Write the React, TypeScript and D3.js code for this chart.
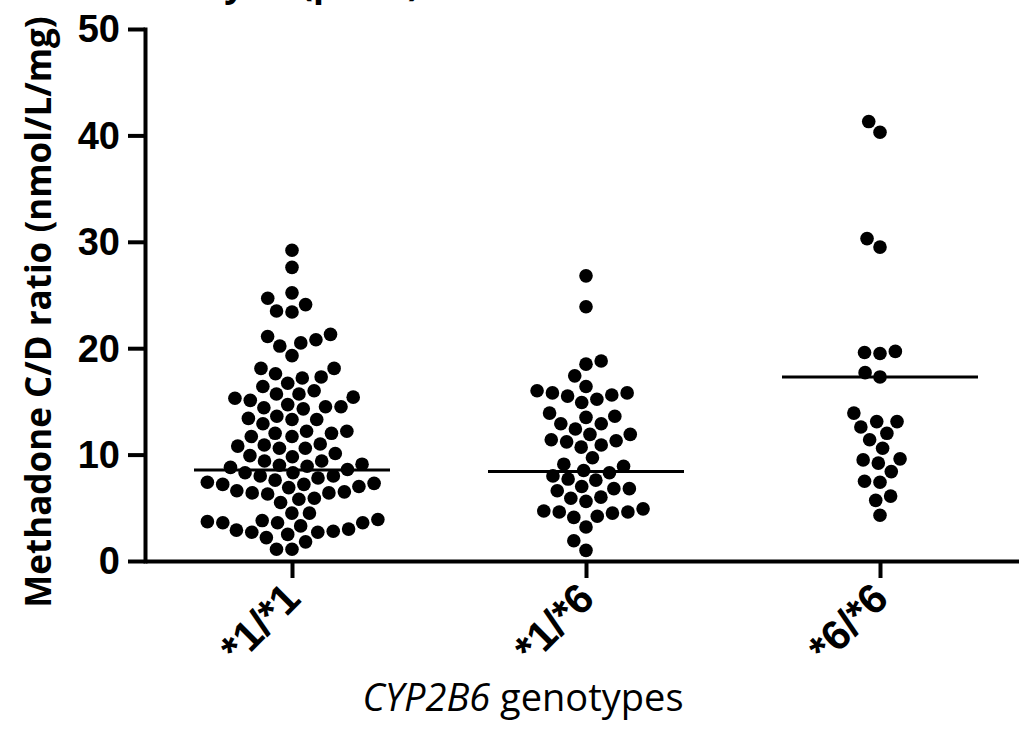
import React, { useEffect, useRef } from "react";
import * as d3 from "d3";

// genotype groups and the methadone C/D ratios
const genotypes = ["*1/*1", "*1/*6", "*6/*6"];
const ratioWT = [
  29.2, 27.6, 25.2, 24.7, 24.1, 23.4, 23.5,
  21.1, 20.5, 20.2, 20.8, 21.3, 19.3,
  18.1, 18.1, 17.6, 17.3, 16.7, 16.4, 17.2,
  16.0, 15.7, 15.3, 14.7, 14.5, 14.5, 15.1, 14.4, 15.4, 15.7,
  14.3, 13.4, 13.3, 12.9, 13.3, 13.6,
  12.2, 12.0, 11.7, 11.0, 11.7, 12.0, 12.2,
  10.9, 10.6, 9.9, 9.4, 9.4, 9.8, 10.1, 10.6, 10.8,
  9.0, 8.8, 8.3, 8.0, 7.8, 8.0, 8.3, 8.6, 8.9, 9.1,
  7.6, 7.3, 7.2, 6.9, 6.5, 6.4, 6.3, 6.4, 6.6, 7.0, 7.2, 7.4,
  5.9, 5.5, 5.8, 4.5, 4.5,
  3.9, 3.7, 3.6, 3.3, 2.5, 2.9, 2.7, 2.7, 2.8, 3.0, 3.6, 3.6, 3.8,
  1.8, 2.2, 1.1, 1.1,
];
const ratioHet = [
  26.8, 23.9, 18.8, 18.5, 17.4,
  16.4, 15.8, 15.6, 15.2, 14.9, 15.5, 15.8, 16.0,
  13.6, 12.9, 12.4, 12.9, 13.5, 13.9,
  11.9, 11.3, 10.9, 10.7, 11.2, 11.4, 11.9,
  9.7, 8.9, 9.1, 8.3, 8.5, 8.0,
  7.7, 7.0, 6.8, 6.6, 6.8, 7.6,
  5.9, 5.6, 6.0,
  4.7, 4.5, 4.1, 4.9, 4.2, 4.6, 4.6,
  3.2, 1.9, 1.0,
];
const ratioHom = [
  41.3, 40.3, 30.3, 29.5, 19.7, 19.5, 19.6, 17.7, 17.3,
  13.9, 13.1, 13.1, 12.6, 12.0, 11.4, 10.6, 9.5, 9.6, 9.2,
  8.4, 7.4, 7.5, 6.1, 5.7, 4.3,
];
const groupLines = [8.55, 8.4, 17.3];
const yTicks = [0, 10, 20, 30, 40, 50];

const W = 1019;
const H = 732;

// simple beeswarm: each dot takes the free spot nearest the centre line
function swarm(values: number[], py: (v: number) => number, diam: number) {
  const placed: { x: number; y: number }[] = [];
  const order = values.map((_, i) => i).sort((a, b) => values[a] - values[b]);
  const out: { x: number; y: number }[] = new Array(values.length);
  order.forEach((i) => {
    const y = py(values[i]);
    const near = placed.filter((p) => Math.abs(p.y - y) < diam);
    const cands = [0];
    near.forEach((p) => {
      const dx = Math.sqrt(diam * diam - (p.y - y) * (p.y - y));
      cands.push(p.x - dx, p.x + dx);
    });
    cands.sort((a, b) => Math.abs(a) - Math.abs(b));
    const x = cands.find((c) =>
      near.every((p) => (p.x - c) ** 2 + (p.y - y) ** 2 >= diam * diam - 0.01)
    ) as number;
    const pt = { x, y };
    placed.push(pt);
    out[i] = pt;
  });
  return out;
}

export default function App() {
  const ref = useRef<SVGSVGElement>(null);

  useEffect(() => {
    const svg = d3.select(ref.current);
    svg.selectAll("*").remove();

    const x = d3.scalePoint().domain(genotypes).range([145, 1027]).padding(0.5);
    const y = d3.scaleLinear().domain([0, 50]).range([561, 29]);

    // title, cut off at the top edge (only descenders show)
    svg.append("text")
      .attr("x", 420)
      .attr("y", -4)
      .attr("text-anchor", "end")
      .attr("font-family", "'Open Sans', sans-serif")
      .attr("font-weight", 700)
      .attr("font-size", 36)
      .text("ANOVA analysis (p<.05)");

    // y axis
    const yAxis = svg.append("g")
      .attr("transform", "translate(145,0)")
      .call(d3.axisLeft(y).tickValues(yTicks).tickSize(17).tickSizeOuter(0).tickPadding(8));
    yAxis.select(".domain").attr("stroke", "#000").attr("stroke-width", 4).attr("stroke-linecap", "square");
    yAxis.selectAll(".tick line").attr("stroke", "#000").attr("stroke-width", 4);
    yAxis.selectAll(".tick text")
      .attr("fill", "#000")
      .attr("font-family", "'Liberation Sans', Arial, sans-serif")
      .attr("font-weight", 700)
      .attr("font-size", 38)
      .attr("dy", "0.34em");

    // x axis
    const xAxis = svg.append("g")
      .attr("transform", "translate(0,561)")
      .call(d3.axisBottom(x).tickSize(17).tickSizeOuter(0));
    xAxis.select(".domain").attr("stroke", "#000").attr("stroke-width", 4);
    xAxis.selectAll(".tick line").attr("stroke", "#000").attr("stroke-width", 4);
    xAxis.selectAll(".tick text").remove();
    xAxis.selectAll(".tick")
      .append("text")
      .attr("fill", "#000")
      .attr("font-family", "'Liberation Sans', Arial, sans-serif")
      .attr("font-weight", 700)
      .attr("font-size", 42)
      .attr("text-anchor", "end")
      .attr("transform", "translate(10,40) rotate(-45)")
      .text((d: any) => d);

    // axis titles
    svg.append("text")
      .attr("transform", "translate(51,312) rotate(-90)")
      .attr("text-anchor", "middle")
      .attr("font-family", "'Open Sans', sans-serif")
      .attr("font-weight", 700)
      .attr("font-size", 35)
      .text("Methadone C/D ratio (nmol/L/mg)");

    const xt = svg.append("text")
      .attr("x", 523)
      .attr("y", 711)
      .attr("text-anchor", "middle")
      .attr("font-family", "'Open Sans', sans-serif")
      .attr("font-size", 38);
    xt.append("tspan").attr("font-style", "italic").text("CYP2B6");
    xt.append("tspan").text(" genotypes");

    // dots
    const groups = [ratioWT, ratioHet, ratioHom];
    groups.forEach((vals, gi) => {
      const cx = x(genotypes[gi]) as number;
      const pts = swarm(vals, y, 15.5);
      svg.append("g")
        .selectAll("circle")
        .data(pts)
        .enter()
        .append("circle")
        .attr("cx", (d) => cx + d.x)
        .attr("cy", (d) => d.y)
        .attr("r", 6.8)
        .attr("fill", "#000");
    });

    // group centre lines
    svg.append("g")
      .selectAll("line")
      .data(groupLines)
      .enter()
      .append("line")
      .attr("x1", (d, i) => (x(genotypes[i]) as number) - 98)
      .attr("x2", (d, i) => (x(genotypes[i]) as number) + 98)
      .attr("y1", (d) => y(d))
      .attr("y2", (d) => y(d))
      .attr("stroke", "#000")
      .attr("stroke-width", 3);
  }, []);

  return (
    <svg
      ref={ref}
      width={W}
      height={H}
      style={{ position: "absolute", left: 0, top: 0, background: "#fff" }}
    />
  );
}
